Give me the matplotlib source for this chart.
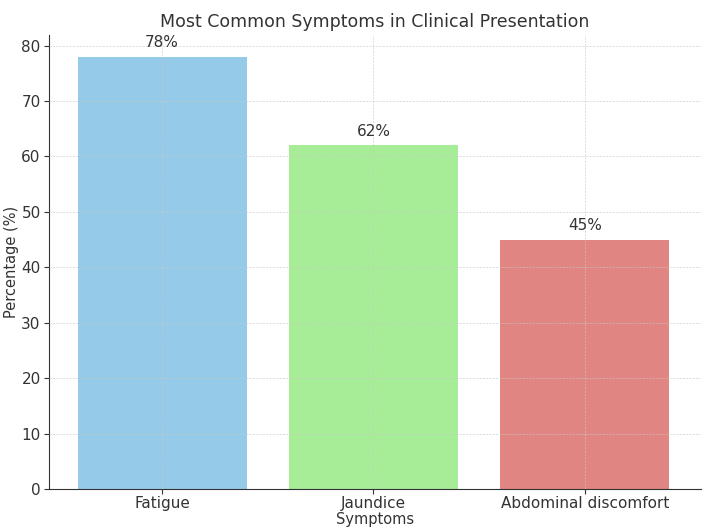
import matplotlib.pyplot as plt

# data
symptoms = ["Fatigue", "Jaundice", "Abdominal discomfort"]
percentages = [78, 62, 45]
colors = ["#95cbe8", "#a7ec97", "#e08581"]

plt.rcParams.update({
    "font.family": "DejaVu Sans",
    "text.color": "#333333",
    "axes.labelcolor": "#333333",
    "xtick.color": "#333333",
    "ytick.color": "#333333",
})

fig = plt.figure(figsize=(7.05, 5.31), dpi=100)
ax = fig.add_axes([0.0695, 0.079, 0.925, 0.855])

bars = ax.bar(symptoms, percentages, color=colors, width=0.8, zorder=1)
for b, v in zip(bars, percentages):
    ax.text(b.get_x() + b.get_width() / 2, v + 1.2, f"{v}%",
            ha="center", va="bottom", fontsize=11)

ax.set_xlim(-0.535, 2.55)
ax.set_ylim(0, 81.9)
ax.set_title("Most Common Symptoms in Clinical Presentation", fontsize=12.5, pad=6)
ax.set_xlabel("Symptoms", fontsize=10.5, labelpad=1)
ax.set_ylabel("Percentage (%)", fontsize=10.5, labelpad=2)
ax.tick_params(axis="both", labelsize=11)
ax.tick_params(axis="x", pad=1.5)
ax.tick_params(axis="y", pad=2.5)
ax.set_axisbelow(False)
ax.grid(True, linestyle=(0, (2.5, 1.5)), color="#c8c8c8", alpha=0.7, linewidth=0.6, zorder=2)
ax.spines["top"].set_visible(False)
ax.spines["right"].set_visible(False)
ax.spines["left"].set_color("#333333")
ax.spines["bottom"].set_color("#333333")

fig.savefig("out.png", dpi=100)
